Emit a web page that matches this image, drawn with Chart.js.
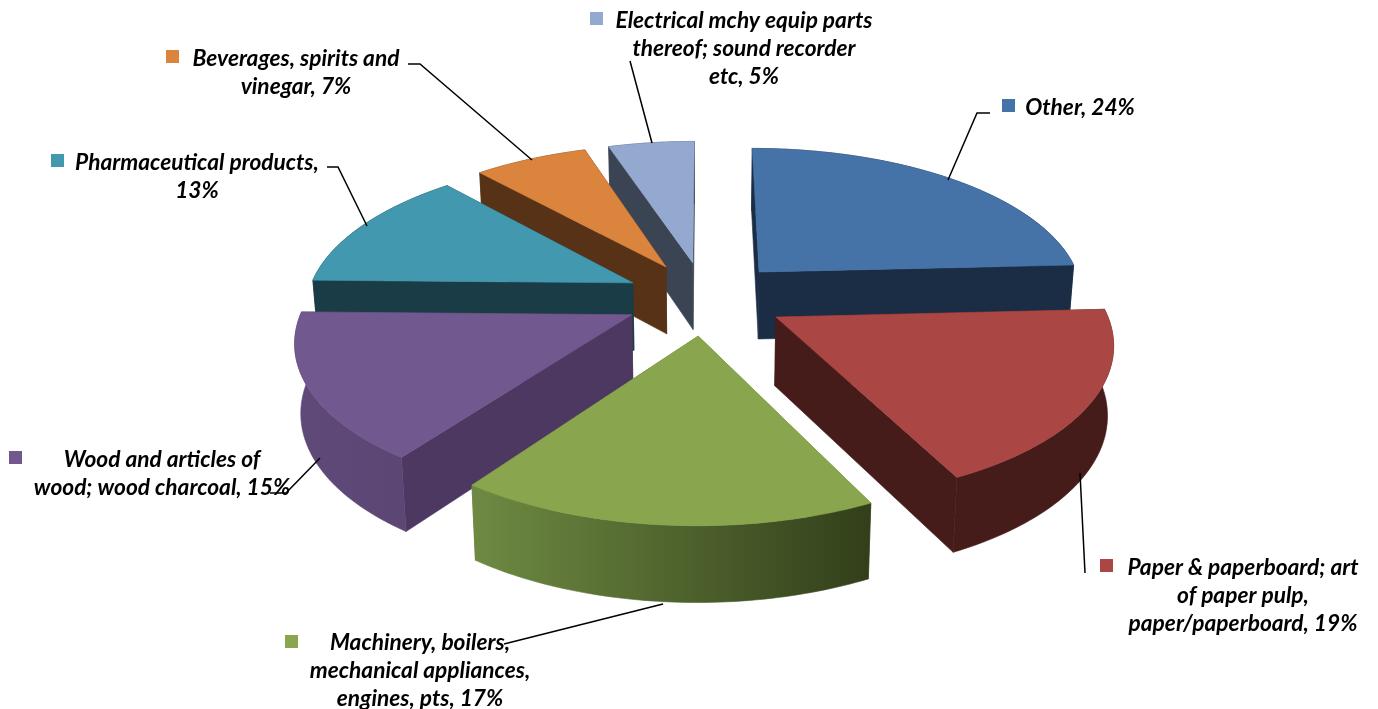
<!DOCTYPE html>
<html>
<head>
<meta charset="utf-8">
<title>Exports by product</title>
<script src="https://cdn.jsdelivr.net/npm/chart.js@4"></script>
<style>
  html, body { margin: 0; background: #fff; }
  #wrap { width: 1378px; height: 709px; }
</style>
</head>
<body>
<div id="wrap"><canvas id="pie"></canvas></div>
<script>
const categories = ["Other", "Paper & paperboard", "Machinery", "Wood", "Pharmaceutical products", "Beverages", "Electrical mchy"];
const shares = [24.2, 18.5, 17.2, 15.4, 13.1, 6.6, 5];

// colours
const topColors = ["#4572A7", "#AA4643", "#89A54E", "#71588F", "#4198AF", "#DB843D", "#93A9CF"];
const wallColors = ["#1B2D45", "#451C1A", "#5F7A38", "#4C3860", "#1A3C47", "#583216", "#3B4453"];
const rimFrom = ["#1B2D45", "#451C1A", "#6E8A42", "#5E4979", "#1A3C47", "#583216", "#3B4453"];
const rimTo = ["#1B2D45", "#451C1A", "#323F1A", "#5B4674", "#1A3C47", "#583216", "#3B4453"];

// label text and where it sits
const labelLines = [
  ["Other, 24%"],
  ["Paper & paperboard; art", "of paper pulp,", "paper/paperboard, 19%"],
  ["Machinery, boilers,", "mechanical appliances,", "engines, pts, 17%"],
  ["Wood and articles of", "wood; wood charcoal, 15%"],
  ["Pharmaceutical products,", "13%"],
  ["Beverages, spirits and", "vinegar, 7%"],
  ["Electrical mchy equip parts", "thereof; sound recorder", "etc, 5%"]
];
const labelAt = [[1080, 108], [1243, 568], [420, 643], [162, 460], [197, 163], [296, 59], [744, 21]];
const swatchAt = [[1002, 99], [1100, 559], [285, 635], [9, 451], [51, 154], [166, 50], [590, 12]];
const leaders = [
  [[990, 113], [977, 113], [948, 180]],
  [[1085, 573], [1080, 473]],
  [[504, 644], [663, 604]],
  [[270, 493], [286, 493], [320, 458]],
  [[327, 167], [338, 167], [367, 226]],
  [[408, 64], [420, 64], [532, 160]],
  [[630, 61], [652, 143]]
];

// 3d view of the pie plane
const view = { cx: 705, cy: 298, rx: 326, ry: 149, k: 0.148, depth: 68, grow: 0.0386, shrink: 0.985 };

function project(u, v) {
  const w = 1 - view.k * v;
  return [view.cx + view.rx * u / w, view.cy + view.ry * v / w];
}

// same point on the underside of the pie, closer to the viewer means a taller wall
function lower(p) {
  return [view.cx + (p[0] - view.cx) * view.shrink, p[1] + view.depth + (p[1] - view.cy) * view.grow];
}

function poly(ctx, pts, fill) {
  ctx.beginPath();
  pts.forEach((p, i) => i ? ctx.lineTo(p[0], p[1]) : ctx.moveTo(p[0], p[1]));
  ctx.closePath();
  ctx.fillStyle = fill;
  ctx.strokeStyle = fill;
  ctx.lineWidth = 0.6;
  ctx.fill();
  ctx.stroke();
}

// each arc of the pie is projected with its explode offset
function sliceOutline(arc) {
  const e = arc.options.offset / arc.outerRadius;
  const mid = (arc.startAngle + arc.endAngle) / 2;
  const ou = e * Math.cos(mid), ov = e * Math.sin(mid);
  const rim = [];
  const steps = 60;
  for (let i = 0; i <= steps; i++) {
    const a = arc.startAngle + (arc.endAngle - arc.startAngle) * i / steps;
    rim.push(project(ou + Math.cos(a), ov + Math.sin(a)));
  }
  return { apex: project(ou, ov), rim, depthKey: ov };
}

const pie3d = {
  id: "pie3d",
  beforeDatasetDraw() {
    return false;
  },
  afterDatasetsDraw(chart) {
    const ctx = chart.ctx;
    const arcs = chart.getDatasetMeta(0).data;
    const slices = arcs.map((arc, i) => ({ i, ...sliceOutline(arc) }));
    slices.sort((a, b) => a.depthKey - b.depthKey);

    ctx.save();
    slices.forEach(s => {
      const { apex, rim, i } = s;
      const first = rim[0], last = rim[rim.length - 1];
      poly(ctx, [apex, first, lower(first), lower(apex)], wallColors[i]);
      poly(ctx, [apex, last, lower(last), lower(apex)], wallColors[i]);
      const grad = ctx.createLinearGradient(last[0], 0, first[0], 0);
      grad.addColorStop(0, rimFrom[i]);
      grad.addColorStop(1, rimTo[i]);
      poly(ctx, rim.concat(rim.map(lower).reverse()), grad);
      poly(ctx, [apex].concat(rim), topColors[i]);
    });

    // leaders go under the text
    ctx.strokeStyle = "#000";
    ctx.lineWidth = 1.5;
    leaders.forEach(line => {
      ctx.beginPath();
      line.forEach((p, n) => n ? ctx.lineTo(p[0], p[1]) : ctx.moveTo(p[0], p[1]));
      ctx.stroke();
    });

    ctx.font = "italic bold 22.7px Lato";
    ctx.fillStyle = "#000";
    ctx.textAlign = "center";
    ctx.textBaseline = "middle";
    labelLines.forEach((lines, i) => {
      lines.forEach((txt, n) => ctx.fillText(txt, labelAt[i][0], labelAt[i][1] + n * 28));
      ctx.fillStyle = topColors[i];
      ctx.fillRect(swatchAt[i][0], swatchAt[i][1], 13, 13);
      ctx.fillStyle = "#000";
    });
    ctx.restore();
  }
};

new Chart(document.getElementById("pie"), {
  type: "pie",
  data: {
    labels: categories,
    datasets: [{
      data: shares,
      backgroundColor: topColors,
      borderWidth: 0,
      offset: 78
    }]
  },
  options: {
    responsive: true,
    maintainAspectRatio: false,
    animation: false,
    events: [],
    plugins: {
      legend: { display: false },
      tooltip: { enabled: false }
    }
  },
  plugins: [pie3d]
});
</script>
</body>
</html>
